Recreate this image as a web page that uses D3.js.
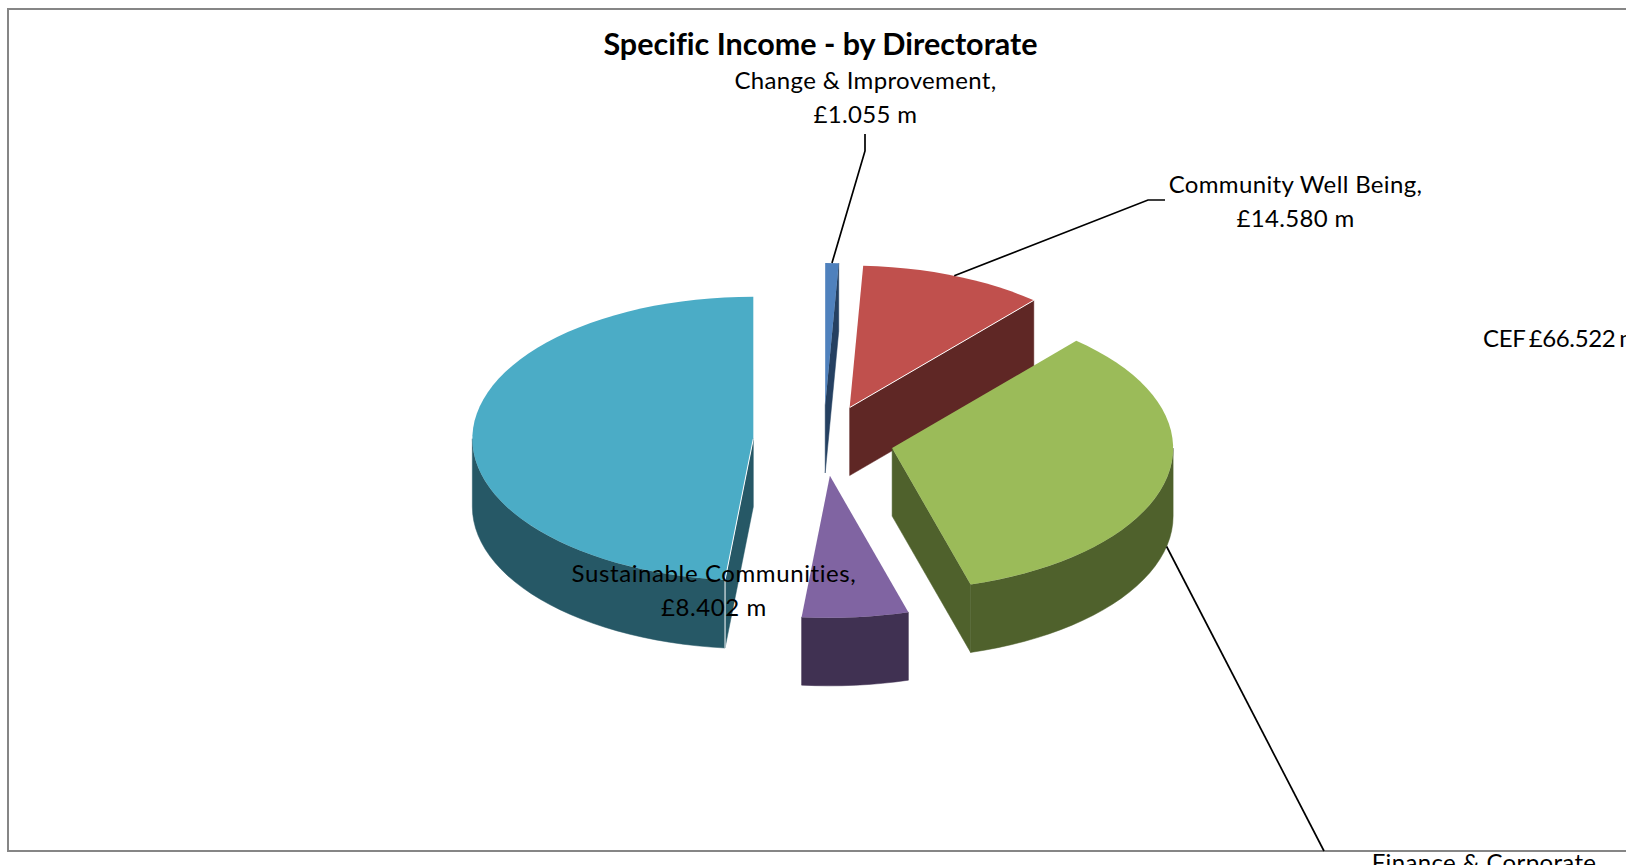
<!DOCTYPE html>
<html>
<head>
<meta charset="utf-8">
<title>Specific Income - by Directorate</title>
<script src="https://cdn.jsdelivr.net/npm/d3@7"></script>
<style>
  html, body { margin: 0; padding: 0; background: #fff; overflow: hidden; }
  svg { display: block; }
  text { font-family: Lato, "Open Sans", sans-serif; fill: #000; font-variant-ligatures: none; }
</style>
</head>
<body>
<svg id="chart" width="1626" height="865"></svg>
<script>
// Income per directorate, in £ million
const directorates = ["Change & Improvement", "Community Well Being", "Finance & Corporate", "Sustainable Communities", "CEF"];
const income = [1.055, 14.58, 46.9, 8.402, 66.522];
const topColours = ["#4f81bd", "#c0504d", "#9bbb59", "#8064a2", "#4bacc6"];
const sideColours = ["#254061", "#5f2725", "#4f612c", "#403152", "#265866"];
const chartTitle = "Specific Income - by Directorate";

const width = 1626, height = 865;
const cx = 823.5, cy = 440.5;  // pie centre before slices are pulled out
const rx = 281, ry = 142;      // tilted disc radii
const depth = 68;              // height of the disc walls
const explode = 0.25;          // share of the radius each slice moves outward

const svg = d3.select("#chart");

// Chart area border; its right edge runs past the window
svg.append("rect")
  .attr("x", 8).attr("y", 9)
  .attr("width", width + 40).attr("height", 842)
  .attr("fill", "#fff").attr("stroke", "#868686").attr("stroke-width", 2);

svg.append("text")
  .attr("x", 820.5).attr("y", 55)
  .attr("text-anchor", "middle")
  .attr("font-size", 30.5).attr("font-weight", 700)
  .text(chartTitle);

// Unit-circle coordinates mapped onto the tilted disc
const xScale = d3.scaleLinear().domain([-1, 1]).range([-rx, rx]);
const yScale = d3.scaleLinear().domain([-1, 1]).range([-ry, ry]);
const onDisc = (angle, k = 1) => [xScale(k * Math.sin(angle)), yScale(-k * Math.cos(angle))];

const slices = d3.pie().sort(null).value(d => d)(income).map((s, i) => {
  const mid = (s.startAngle + s.endAngle) / 2;
  const [ox, oy] = onDisc(mid, explode);
  return { i, a0: s.startAngle, a1: s.endAngle, mid, apex: [cx + ox, cy + oy] };
});

const rimPoint = (s, angle, drop = 0) => {
  const [x, y] = onDisc(angle);
  return [s.apex[0] + x, s.apex[1] + y + drop];
};
const arcAngles = (from, to) => {
  const steps = Math.max(1, Math.ceil((to - from) / (Math.PI / 60)));
  return d3.range(steps + 1).map(j => from + (to - from) * j / steps);
};
const path = d3.line();
const mark = svg.append("g");

slices.forEach(s => {
  const g = mark.append("g").attr("class", "slice");
  const side = sideColours[s.i];
  const apexLow = [s.apex[0], s.apex[1] + depth];
  const face = a => path([s.apex, rimPoint(s, a), rimPoint(s, a, depth), apexLow]) + "Z";
  const wallFill = d => g.append("path").attr("d", d).attr("fill", side)
    .attr("stroke", side).attr("stroke-width", 0.5);

  // Cut faces that turn towards the viewer
  if (Math.sin(s.a0) < -1e-6) wallFill(face(s.a0));
  if (Math.sin(s.a1) > 1e-6) wallFill(face(s.a1));

  // Outer wall: only the front half of the rim can be seen
  const from = Math.max(s.a0, Math.PI / 2), to = Math.min(s.a1, 3 * Math.PI / 2);
  if (to > from) {
    const angles = arcAngles(from, to);
    const wall = angles.map(a => rimPoint(s, a))
      .concat(angles.slice().reverse().map(a => rimPoint(s, a, depth)));
    wallFill(path(wall) + "Z");
  }

  // Top surface
  const top = [s.apex].concat(arcAngles(s.a0, s.a1).map(a => rimPoint(s, a)));
  g.append("path").attr("d", path(top) + "Z").attr("fill", topColours[s.i]);
});

// Pale hairlines where the cut faces of the red and teal slices meet the top
[[1, "a1"], [4, "a0"]].forEach(([i, edge]) => {
  const s = slices[i];
  mark.append("path")
    .attr("d", path([s.apex, rimPoint(s, s[edge])]))
    .attr("fill", "none").attr("stroke", "#fff").attr("stroke-width", 1);
});
{
  const s = slices[4];
  mark.append("path")
    .attr("d", path([rimPoint(s, s.a0), rimPoint(s, s.a0, depth)]))
    .attr("fill", "none").attr("stroke", "#fff").attr("stroke-width", 1);
}

// Leader lines run from a point on each slice's rim to its label
const leaderLine = pts => svg.append("path")
  .attr("d", path(pts)).attr("fill", "none")
  .attr("stroke", "#000").attr("stroke-width", 1.7);

leaderLine([rimPoint(slices[0], slices[0].mid), [865, 151], [865, 134]]);
leaderLine([rimPoint(slices[1], slices[1].mid), [1148, 200], [1165, 200]]);
leaderLine([rimPoint(slices[2], slices[2].mid, depth), [1324, 851]]);

const money = v => `£${v.toFixed(3)} m`;
const label = (x, y, lines, anchor = "middle", spacing = 0.35, wordGap = 0) => {
  const t = svg.append("text")
    .attr("x", x).attr("y", y)
    .attr("text-anchor", anchor)
    .attr("font-size", 24)
    .attr("letter-spacing", spacing)
    .attr("word-spacing", wordGap);
  lines.forEach((line, j) => {
    t.append("tspan").attr("x", x).attr("dy", j ? 34 : 0).text(line);
  });
};

label(865.5, 89, [directorates[0] + ",", money(income[0])]);
label(1295.5, 193, [directorates[1] + ",", money(income[1])]);
label(1484, 871, [directorates[2]]);
label(714, 582, [directorates[3] + ",", money(income[3])], "middle", 0.6);
label(1483, 347, [`${directorates[4]} ${money(income[4])}`], "start", -0.35, -2);
</script>
</body>
</html>
